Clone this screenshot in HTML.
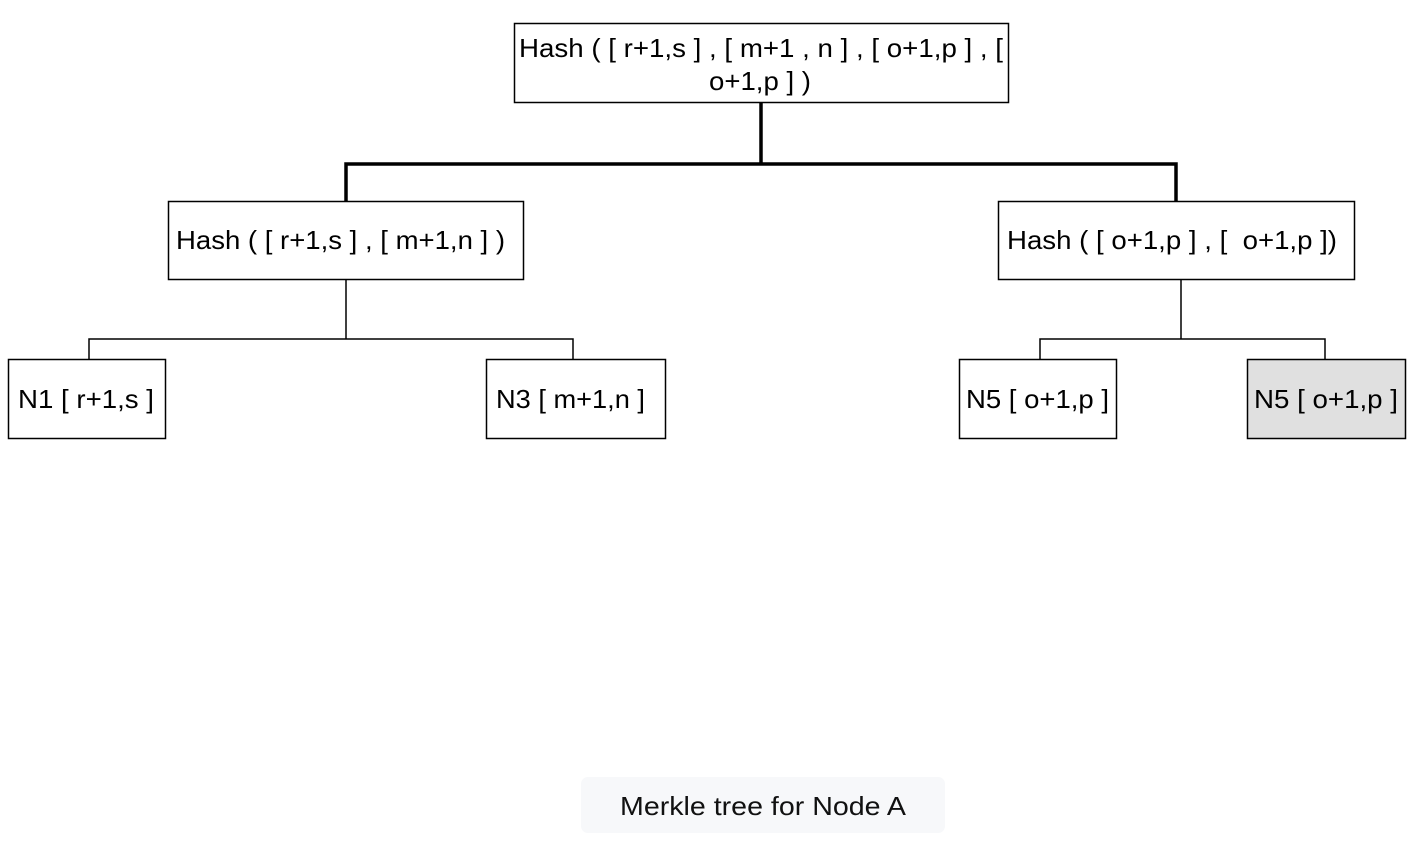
<!DOCTYPE html>
<html><head><meta charset="utf-8"><style>
body{margin:0;background:#fff;width:1420px;height:848px;overflow:hidden}
svg text{font-family:"Liberation Sans",sans-serif;font-size:26px;fill:#000}
</style></head><body>
<svg width="1420" height="848" xmlns="http://www.w3.org/2000/svg">
<g fill="none" stroke="#000">
<path d="M761 102V164M346 201V164H1176V201" stroke-width="3.5"/>
<path d="M346 279V339M89 359V339H573V359M1181 279V339M1040 359V339H1325V359" stroke-width="1.5"/>
<rect x="514.5" y="23.5" width="494" height="79" fill="#fff" stroke-width="1.5"/>
<rect x="168.5" y="201.5" width="355" height="78" fill="#fff" stroke-width="1.5"/>
<rect x="998.5" y="201.5" width="356" height="78" fill="#fff" stroke-width="1.5"/>
<rect x="8.5" y="359.5" width="157" height="79" fill="#fff" stroke-width="1.5"/>
<rect x="486.5" y="359.5" width="179" height="79" fill="#fff" stroke-width="1.5"/>
<rect x="959.5" y="359.5" width="157" height="79" fill="#fff" stroke-width="1.5"/>
<rect x="1247.5" y="359.5" width="158" height="79" fill="#e0e0e0" stroke-width="1.5"/>
</g>
<g>
<text x="519" y="57" textLength="484" lengthAdjust="spacingAndGlyphs">Hash ( [ r+1,s ] , [ m+1 , n ] , [ o+1,p ] , [</text>
<text x="709" y="90" textLength="102" lengthAdjust="spacingAndGlyphs">o+1,p ] )</text>
<text x="176" y="249" textLength="329" lengthAdjust="spacingAndGlyphs">Hash ( [ r+1,s ] , [ m+1,n ] )</text>
<text x="1007" y="249" textLength="330" lengthAdjust="spacingAndGlyphs" xml:space="preserve">Hash ( [ o+1,p ] , [  o+1,p ])</text>
<text x="18" y="408" textLength="136" lengthAdjust="spacingAndGlyphs">N1 [ r+1,s ]</text>
<text x="496" y="408" textLength="149" lengthAdjust="spacingAndGlyphs">N3 [ m+1,n ]</text>
<text x="966" y="408" textLength="143" lengthAdjust="spacingAndGlyphs">N5 [ o+1,p ]</text>
<text x="1254" y="408" textLength="144" lengthAdjust="spacingAndGlyphs">N5 [ o+1,p ]</text>
</g>
<rect x="581" y="777" width="364" height="56" rx="7" fill="#f7f8fa"/>
<text x="620" y="815" textLength="286" lengthAdjust="spacingAndGlyphs" style="font-size:26px;fill:#111">Merkle tree for Node A</text>
</svg>
</body></html>
